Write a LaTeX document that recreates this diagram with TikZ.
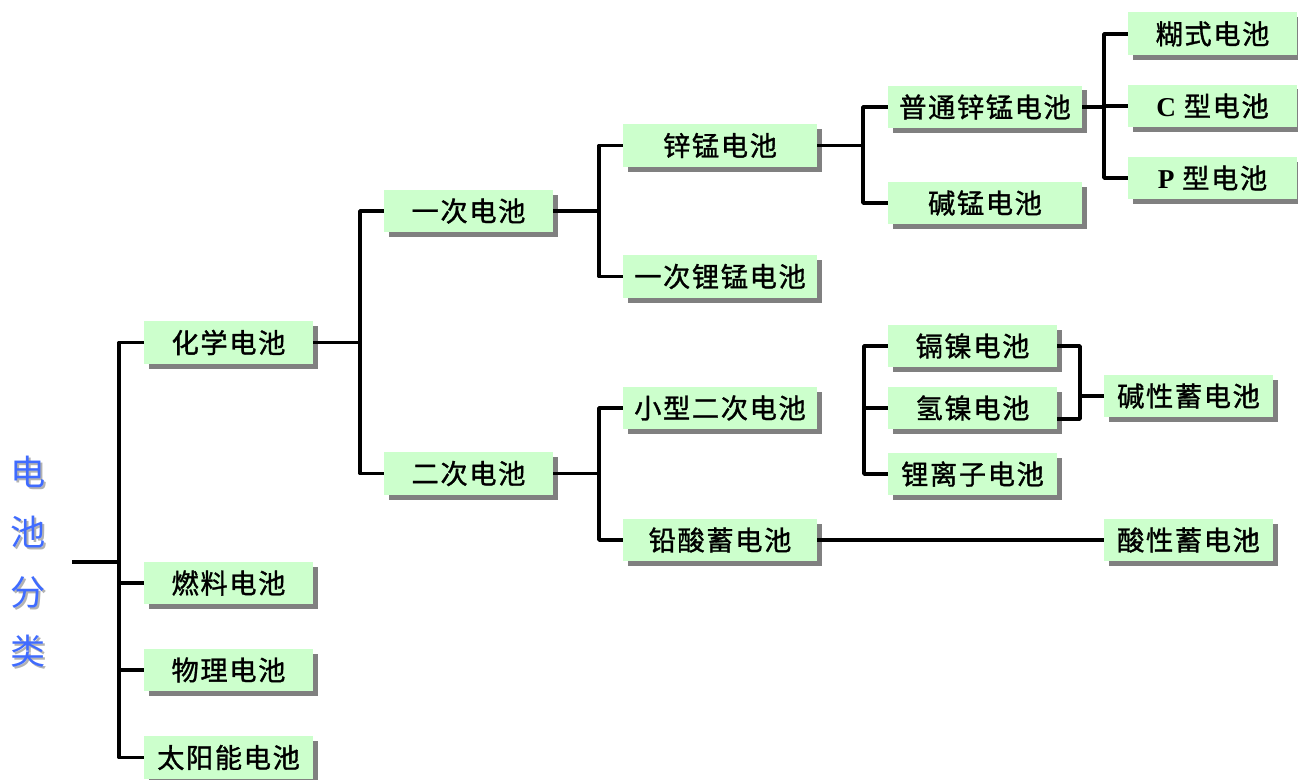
\documentclass[tikz,border=0pt]{standalone}
\usepackage{fontspec}
\setmainfont{Liberation Serif}
\newfontfamily\cjk[LetterSpace=6,FakeBold=1.2]{Noto Sans CJK SC}
\newfontfamily\cjktitle{Noto Sans CJK SC}
\usetikzlibrary{shadows}
\definecolor{boxgreen}{HTML}{CCFFCC}
\definecolor{titleblue}{HTML}{3F6BFF}

\begin{document}
\begin{tikzpicture}[x=0.02cm,y=-0.02cm]
		\tikzstyle{every node}=[inner sep=0pt]
		\tikzstyle{cell}=[fill=boxgreen, minimum width=3.38cm, minimum height=0.86cm, font=\cjk\fontsize{15.5pt}{18pt}\selectfont, drop shadow={shadow xshift=0.1cm, shadow yshift=-0.1cm, fill=black!50, opacity=1}]
		\tikzstyle{wide}=[cell, minimum width=3.88cm]
		\tikzstyle{title}=[align=center, font=\cjktitle\fontsize{20pt}{34pt}\selectfont]
		\tikzstyle{link}=[line width=2.1pt, line join=round]
		\useasboundingbox (0,0) rectangle (1298,780);

		% Title
		\node[title, text=black!30] (titleshade) at (30,564) {电\\池\\分\\类};
		\node[title, text=titleblue] (title) at (28,562) {电\\池\\分\\类};

		% Boxes
		\node[cell] (chem) at (228.5,342.5) {化学电池};
		\node[cell] (fuel) at (228.5,583) {燃料电池};
		\node[cell] (phys) at (228.5,670) {物理电池};
		\node[cell] (solar) at (228.5,757.5) {太阳能电池};
		\node[cell] (prim) at (468.5,211) {一次电池};
		\node[cell] (sec) at (468.5,473.5) {二次电池};
		\node[wide] (znmn) at (720,145.5) {锌锰电池};
		\node[wide] (limn) at (720,276.5) {一次锂锰电池};
		\node[wide] (small) at (720,408) {小型二次电池};
		\node[wide] (lead) at (720,540) {铅酸蓄电池};
		\node[wide] (plain) at (985,107) {普通锌锰电池};
		\node[wide] (alk) at (985,203) {碱锰电池};
		\node[cell] (paste) at (1212.5,34) {糊式电池};
		\node[cell] (ctype) at (1212.5,106) {{\rmfamily\bfseries C} 型电池};
		\node[cell] (ptype) at (1212.5,178) {{\rmfamily\bfseries P} 型电池};
		\node[cell] (nicd) at (972.5,346) {镉镍电池};
		\node[cell] (nimh) at (972.5,408) {氢镍电池};
		\node[cell] (liion) at (972.5,474) {锂离子电池};
		\node[cell] (alkstor) at (1188.5,396) {碱性蓄电池};
		\node[cell] (acid) at (1188.5,540) {酸性蓄电池};

		% Root
		\coordinate (rootend) at (72,562);
		\coordinate (j0) at (119,562);
		\draw[link] (rootend) -- (j0);
		\draw[link] (chem.west) -| (j0) |- (solar.west);
		\draw[link] (fuel.west) -- (fuel.west -| j0);
		\draw[link] (phys.west) -- (phys.west -| j0);

		% Chemical
		\coordinate (j1) at (360,342.5);
		\draw[link] (chem.east) -- (j1);
		\draw[link] (prim.west) -| (j1) |- (sec.west);

		% Primary
		\coordinate (j2) at (599,211);
		\draw[link] (prim.east) -- (j2);
		\draw[link] (znmn.west) -| (j2) |- (limn.west);

		% Secondary
		\coordinate (j3) at (599,473.5);
		\draw[link] (sec.east) -- (j3);
		\draw[link] (small.west) -| (j3) |- (lead.west);

		% Zinc-manganese
		\coordinate (j4) at (863,145.5);
		\draw[link] (znmn.east) -- (j4);
		\draw[link] (plain.west) -| (j4) |- (alk.west);

		\coordinate (j5) at (1104,107);
		\draw[link] (plain.east) -- (j5);
		\draw[link] (paste.west) -| (j5) |- (ptype.west);
		\draw[link] (ctype.west) -- (ctype.west -| j5);

		% Nickel group
		\coordinate (j6) at (864,408);
		\draw[link] (nicd.west) -| (j6) |- (liion.west);
		\draw[link] (nimh.west) -- (j6);
		\coordinate (j7) at (1080,396);
		\draw[link] (nicd.east) -| (j7) |- ([yshift=-0.22cm]nimh.east);
		\draw[link] (j7) -- (alkstor.west);

		% Lead-acid
		\draw[link] (lead.east) -- (acid.west);
	\end{tikzpicture}
\end{document}
